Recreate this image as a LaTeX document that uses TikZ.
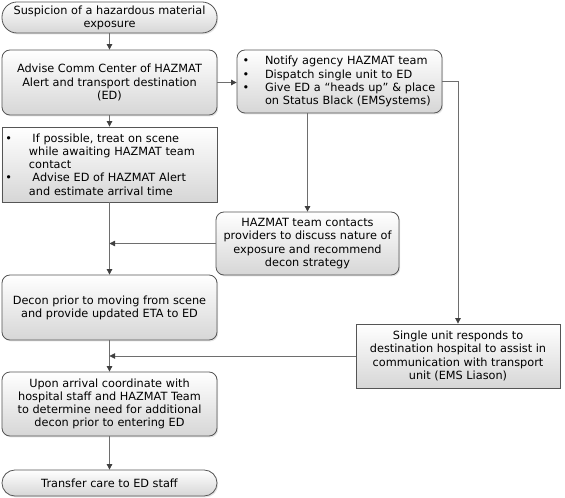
\documentclass[tikz,border=0pt]{standalone}
\usepackage{fontspec}
\setmainfont{DejaVu Sans}
\usetikzlibrary{arrows.meta,shadows,calc}
\definecolor{boxc}{HTML}{555555}
\definecolor{linec}{HTML}{6E6E6E}
\definecolor{arrc}{HTML}{404040}
\newcommand{\bul}{\makebox[23bp][l]{\hspace*{0.5bp}\textbullet}}
\begin{document}
\begin{tikzpicture}[x=1bp,y=-1bp,
  box/.style={draw=boxc, line width=0.8bp, top color=white, bottom color=black!16,
    drop shadow={opacity=0.22,shadow xshift=1.2bp,shadow yshift=-1.4bp},
    font=\fontsize{11.3bp}{13.2bp}\selectfont, inner sep=0pt, align=center},
  rbox/.style={box, rounded corners=8bp},
  conn/.style={draw=linec, line width=0.8bp, -{Triangle[length=5.5bp,width=5.5bp,color=arrc]}}]
\useasboundingbox (0,0) rectangle (565,498);

\node[box, rounded corners=15bp, minimum width=215bp, minimum height=31bp] (start) at (109.5,17.5)
  {Suspicion of a hazardous material\\exposure};
\node[rbox, minimum width=215bp, minimum height=65bp] (advise) at (109.5,82.5)
  {Advise Comm Center of HAZMAT\\Alert and transport destination\\(ED)};
\node[rbox, minimum width=205bp, minimum height=63bp, inner xsep=5bp, text width=195bp, align=left] (notify) at (339.5,81.5)
  {\bul Notify agency HAZMAT team\\\bul Dispatch single unit to ED\\\bul Give ED a “heads up” \& place\\\hspace*{23bp}on Status Black (EMSystems)};
\node[box, minimum width=215bp, minimum height=75bp, inner xsep=3bp, text width=209bp, align=left] (bull) at (109.5,164.5)
  {\makebox[24bp][l]{\hspace*{0.5bp}\textbullet}\hspace*{3.5bp}If possible, treat on scene\\\hspace*{24bp}while awaiting HAZMAT team\\\hspace*{24bp}contact\\\makebox[24bp][l]{\hspace*{0.5bp}\textbullet}\hspace*{3.5bp}Advise ED of HAZMAT Alert\\\hspace*{24bp}and estimate arrival time};
\node[rbox, minimum width=183bp, minimum height=63bp] (contacts) at (307.5,243.5)
  {HAZMAT team contacts\\providers to discuss nature of\\exposure and recommend\\decon strategy};
\node[rbox, minimum width=215bp, minimum height=65bp] (decon) at (109.5,307.5)
  {Decon prior to moving from scene\\and provide updated ETA to ED};
\node[box, minimum width=204bp, minimum height=64bp] (single) at (458,356)
  {Single unit responds to\\destination hospital to assist in\\communication with transport\\unit (EMS Liason)};
\node[rbox, minimum width=215bp, minimum height=64bp] (upon) at (109.5,404)
  {Upon arrival coordinate with\\hospital staff and HAZMAT Team\\to determine need for additional\\decon prior to entering ED};
\node[box, rounded corners=12.9bp, minimum width=215bp, minimum height=26bp] (stop) at (109.5,483)
  {Transfer care to ED staff};

\draw[conn] (start) -- (advise);
\draw[conn] (advise.east) -- (advise.east -| notify.west);
\draw[conn] (notify.south -| contacts.north) -- (contacts.north);
\draw[conn] (notify.east) -| (single.north);
\draw[conn] (advise) -- (bull);
\draw[conn] (bull) -- (decon);
\draw[conn] (contacts.west) -- (contacts.west -| bull.south);
\draw[conn] (decon) -- (upon);
\draw[conn] (single.west) -- (single.west -| decon.south);
\draw[conn] (upon) -- (stop);
\end{tikzpicture}
\end{document}
